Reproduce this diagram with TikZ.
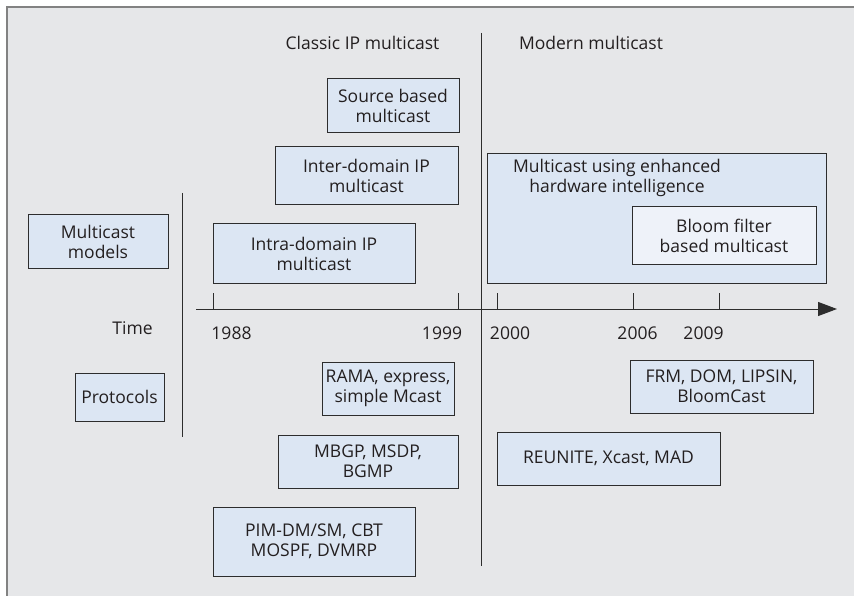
\documentclass[tikz,border=0pt]{standalone}
\usepackage{fontspec}
\setmainfont{Open Sans}
\usepackage{tikz}
\usetikzlibrary{arrows.meta}

\definecolor{panelbg}{RGB}{230,231,233}
\definecolor{panelline}{RGB}{130,130,130}
\definecolor{boxfill}{RGB}{220,230,243}
\definecolor{bloomfill}{RGB}{238,242,249}
\definecolor{boxline}{RGB}{45,45,45}
\definecolor{textdark}{RGB}{35,31,32}

\begin{document}
\begin{tikzpicture}[x=1pt, y=-1pt,
    every node/.style={font=\fontsize{17.5}{20}\selectfont, text=textdark},
    box/.style={draw=boxline, line width=1pt, fill=boxfill, inner sep=0pt, align=center},
    bloombox/.style={box, fill=bloomfill},
    yearlabel/.style={inner sep=0pt}]
    \useasboundingbox (0,0) rectangle (854,596);
    % --- panel ---
    \fill[panelbg] (7,7) rectangle (856,598);
    \draw[panelline, line width=1.5pt] (7,598) -- (7,7) -- (856,7);

    % --- column titles and dividers ---
    \node (classic) at (362.5,43) {Classic IP multicast};
    \node (modern) at (591,43) {Modern multicast};
    \draw[boxline, line width=1pt] (481,33) -- (481,566);
    \draw[boxline, line width=1pt] (182,193) -- (182,437);

    % --- multicast models ---
    \node[box, minimum width=140pt, minimum height=53pt] (models) at (98,241.5) {Multicast\\models};
    \node[box, minimum width=132pt, minimum height=54pt] (source) at (393,106) {Source based\\multicast};
    \node[box, minimum width=183pt, minimum height=58pt] (inter) at (366.5,176) {Inter-domain IP\\multicast};
    \node[box, minimum width=202pt, minimum height=59pt] (intra) at (314,253.5) {Intra-domain IP\\multicast};
    \node[box, minimum width=339pt, minimum height=129pt] (hw) at (656.5,218.5) {};
    \node (hwtext) at (617,178) [align=center] {Multicast using enhanced\\hardware intelligence};
    \node[bloombox, minimum width=184pt, minimum height=57pt] (bloom) at (724,235.5) {Bloom filter\\based multicast};

    % --- time axis ---
    \coordinate (axisL) at (196,309);
    \coordinate (axisR) at (837,309);
    \draw[boxline, line width=1pt, -{Triangle[length=19pt, width=14pt]}] (axisL) -- (axisR);
    \foreach \tx in {213,458,497,633,719}
        \draw[boxline, line width=1pt] (\tx,293) -- (\tx,309);
    \node (time) at (132.5,328) {Time};
    \node[yearlabel] (y1988) at (231.5,333) {1988};
    \node[yearlabel] (y1999) at (442,333) {1999};
    \node[yearlabel] (y2000) at (510,333) {2000};
    \node[yearlabel] (y2006) at (637.5,333) {2006};
    \node[yearlabel] (y2009) at (703.5,333) {2009};

    % --- protocols ---
    \node[box, minimum width=89pt, minimum height=48pt] (protocols) at (119.5,397) {Protocols};
    \node[box, minimum width=132pt, minimum height=53pt] (rama) at (388,388.5) {RAMA, express,\\simple Mcast};
    \node[box, minimum width=180pt, minimum height=53pt] (mbgp) at (368,461.5) {MBGP, MSDP,\\BGMP};
    \node[box, minimum width=202pt, minimum height=69pt] (pim) at (314,541.5) {PIM-DM/SM, CBT\\MOSPF, DVMRP};
    \node[box, minimum width=183pt, minimum height=53pt] (frm) at (721.5,386.5) {FRM, DOM, LIPSIN,\\BloomCast};
    \node[box, minimum width=223pt, minimum height=53pt] (reunite) at (608.5,458.5) {REUNITE, Xcast, MAD};
\end{tikzpicture}
\end{document}
